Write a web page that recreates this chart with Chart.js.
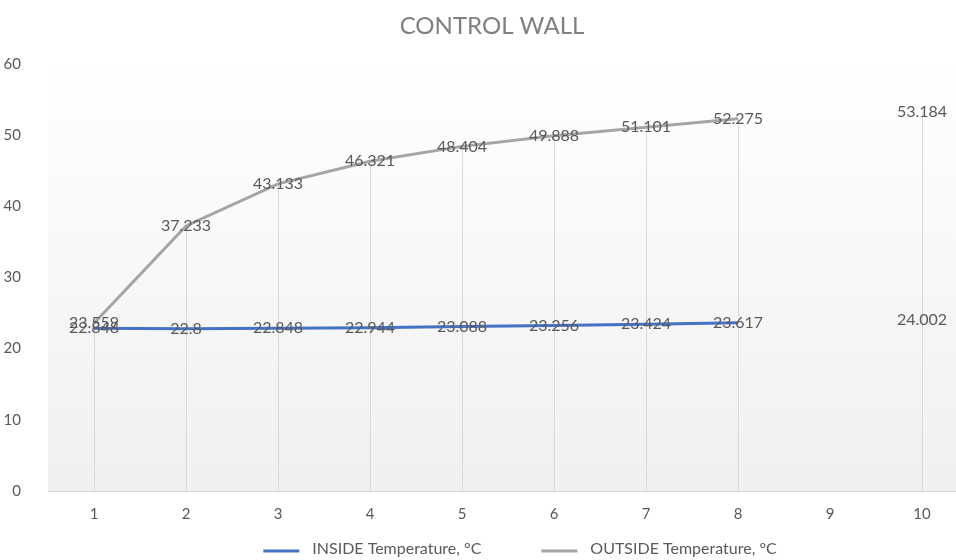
<!DOCTYPE html>
<html>
<head>
<meta charset="utf-8">
<script src="https://cdn.jsdelivr.net/npm/chart.js@4.4.1/dist/chart.umd.min.js"></script>
<style>
  html, body { margin: 0; padding: 0; background: #ffffff; overflow: hidden; width: 956px; height: 560px; }
  #wrap { width: 985px; height: 560px; }
</style>
</head>
<body>
<div id="wrap"><canvas id="c" width="985" height="560"></canvas></div>
<script>
const chartTitle = 'CONTROL WALL';
const categories = ['1', '2', '3', '4', '5', '6', '7', '8', '9', '10'];
const insideTemp = [22.848, 22.8, 22.848, 22.944, 23.088, 23.256, 23.424, 23.617, null, 24.002];
const outsideTemp = [23.559, 37.233, 43.133, 46.321, 48.404, 49.888, 51.101, 52.275, null, 53.184];
const seriesNames = ['INSIDE Temperature, °C', 'OUTSIDE Temperature, °C'];
const yMin = 0, yMax = 60, yStep = 10;

const FONT = 'Lato, "Open Sans", sans-serif';
const colors = ['#4472c4', '#a5a5a5'];

const titleShiftPlugin = {
  id: 'titleShift',
  afterLayout(chart) {
    if (chart.titleBlock) {
      chart.titleBlock.left += 16;
      chart.titleBlock.right += 0;
    }
  }
};

const bgPlugin = {
  id: 'bgGradient',
  beforeDraw(chart) {
    const { ctx, chartArea: a } = chart;
    const g = ctx.createLinearGradient(0, a.top, 0, a.bottom);
    g.addColorStop(0, '#ffffff');
    g.addColorStop(1, '#f0f0f0');
    ctx.save();
    ctx.fillStyle = g;
    ctx.fillRect(a.left, a.top, a.right - a.left, a.bottom - a.top);
    ctx.restore();
  }
};

const dropLinePlugin = {
  id: 'dropLines',
  beforeDatasetsDraw(chart) {
    const { ctx, scales: { x, y } } = chart;
    ctx.save();
    ctx.strokeStyle = '#d9d9d9';
    ctx.lineWidth = 1;
    categories.forEach((c, i) => {
      const vals = chart.data.datasets.map(d => d.data[i]).filter(v => v !== null && v !== undefined);
      if (!vals.length) return;
      const top = Math.max(...vals);
      const px = Math.round(x.getPixelForValue(i)) + 0.5;
      ctx.beginPath();
      ctx.moveTo(px, y.getPixelForValue(top));
      ctx.lineTo(px, y.getPixelForValue(0));
      ctx.stroke();
    });
    ctx.restore();
  }
};

const labelPlugin = {
  id: 'valueLabels',
  afterDatasetsDraw(chart) {
    const { ctx, scales: { x, y } } = chart;
    ctx.save();
    ctx.font = '16px ' + FONT;
    ctx.fillStyle = '#595959';
    ctx.textAlign = 'center';
    ctx.textBaseline = 'middle';
    chart.data.datasets.slice().reverse().forEach(ds => {
      ds.data.forEach((v, i) => {
        if (v === null || v === undefined) return;
        ctx.fillText(String(v), x.getPixelForValue(i), y.getPixelForValue(v));
      });
    });
    ctx.restore();
  }
};

const legendPlugin = {
  id: 'customLegend',
  afterDraw(chart) {
    const { ctx } = chart;
    ctx.save();
    ctx.font = '16px ' + FONT;
    const boxW = 36, gap = 13, spacing = 60;
    const widths = seriesNames.map(n => ctx.measureText(n).width);
    const total = widths.reduce((s, w) => s + boxW + gap + w, 0) + spacing * (seriesNames.length - 1);
    let xPos = 520 - total / 2;
    const yPos = 549;
    seriesNames.forEach((n, i) => {
      ctx.strokeStyle = colors[i];
      ctx.lineWidth = 3;
      ctx.beginPath();
      ctx.moveTo(xPos, yPos + 2);
      ctx.lineTo(xPos + boxW, yPos + 2);
      ctx.stroke();
      ctx.fillStyle = '#595959';
      ctx.textAlign = 'left';
      ctx.textBaseline = 'middle';
      ctx.fillText(n, xPos + boxW + gap, yPos);
      xPos += boxW + gap + widths[i] + spacing;
    });
    ctx.restore();
  }
};

new Chart(document.getElementById('c'), {
  type: 'line',
  data: {
    labels: categories,
    datasets: [
      { label: seriesNames[0], data: insideTemp, borderColor: colors[0], backgroundColor: colors[0], borderWidth: 3, pointRadius: 0, tension: 0, spanGaps: false },
      { label: seriesNames[1], data: outsideTemp, borderColor: colors[1], backgroundColor: colors[1], borderWidth: 3, pointRadius: 0, tension: 0, spanGaps: false }
    ]
  },
  options: {
    responsive: false,
    animation: false,
    layout: { padding: { left: 0, right: 17, top: 0, bottom: 31 } },
    plugins: {
      legend: { display: false },
      tooltip: { enabled: false },
      title: {
        display: true,
        text: chartTitle,
        color: '#808080',
        font: { family: FONT, size: 24, weight: 'normal' },
        padding: { top: 12, bottom: 23 }
      }
    },
    scales: {
      x: {
        offset: true,
        grid: { display: false },
        border: { display: true, color: '#d9d9d9', width: 1 },
        ticks: { color: '#595959', font: { family: FONT, size: 15 }, padding: 6, maxRotation: 0 }
      },
      y: {
        min: yMin, max: yMax,
        grid: { display: false },
        border: { display: false },
        ticks: { stepSize: yStep, color: '#595959', font: { family: FONT, size: 15 }, padding: 19 },
        afterFit(s) { s.width = 48; }
      }
    }
  },
  plugins: [titleShiftPlugin, bgPlugin, dropLinePlugin, labelPlugin, legendPlugin]
});
</script>
</body>
</html>
